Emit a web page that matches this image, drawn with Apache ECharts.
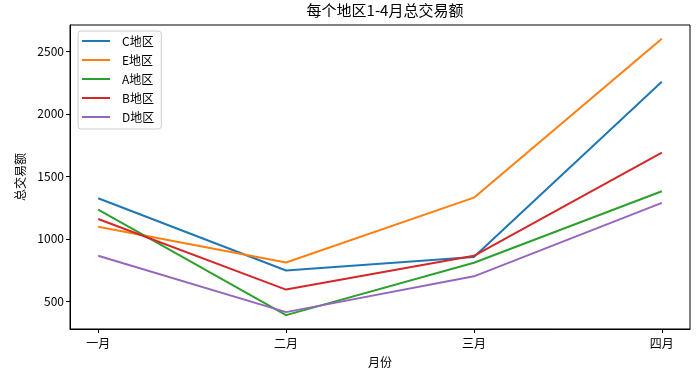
<!DOCTYPE html>
<html>
<head>
<meta charset="utf-8">
<script src="https://cdn.jsdelivr.net/npm/echarts@6/dist/echarts.min.js"></script>
<style>html,body{margin:0;padding:0;background:#fff}#c{width:700px;height:373px}</style>
</head>
<body>
<div id="c"></div>
<script>
const months = ['一月', '二月', '三月', '四月'];
const seriesNames = ['C地区', 'E地区', 'A地区', 'B地区', 'D地区'];
const cValues = [1325, 748, 855, 2256];
const eValues = [1098, 812, 1330, 2600];
const aValues = [1235, 391, 810, 1381];
const bValues = [1159, 595, 865, 1690];
const dValues = [865, 415, 701, 1288];
const yTicks = [500, 1000, 1500, 2000, 2500];
const xTicks = [0, 1, 2, 3];
const colors = ['#1f77b4', '#ff7f0e', '#2ca02c', '#d62728', '#9467bd'];
const allValues = [cValues, eValues, aValues, bValues, dValues];

const FONT = '"Noto Sans CJK SC", sans-serif';
const chart = echarts.init(document.getElementById('c'), null, {renderer: 'canvas'});
const series = seriesNames.map((n, i) => ({
  name: n,
  type: 'line',
  symbol: 'none',
  data: allValues[i].map((v, j) => [xTicks[j], v]),
  lineStyle: {width: 2, color: colors[i]},
  itemStyle: {color: colors[i]},
  emphasis: {disabled: true},
  animation: false
}));
chart.setOption({
  animation: false,
  textStyle: {fontFamily: FONT},
  title: {
    text: '每个地区1-4月总交易额',
    left: 380, top: -2, textAlign: 'center',
    textStyle: {fontFamily: FONT, fontSize: 15, fontWeight: 'normal', color: '#000'}
  },
  legend: {
    orient: 'vertical',
    left: 78, top: 31,
    icon: 'rect',
    itemWidth: 28, itemHeight: 2, itemGap: 5,
    padding: [3, 7, 5, 4],
    borderColor: '#cccccc', borderWidth: 1, borderRadius: 3,
    backgroundColor: 'rgba(255,255,255,0.8)',
    textStyle: {fontFamily: FONT, fontSize: 12, lineHeight: 14, color: '#000', padding: [0, 0, 0, 7]},
    data: seriesNames
  },
  grid: {left: 70, right: 10, top: 25, bottom: 44, show: true, borderColor: '#000', borderWidth: 1, containLabel: false},
  xAxis: {
    type: 'value',
    min: -0.15, max: 3.15,
    name: '月份', nameLocation: 'middle', nameGap: 27,
    nameTextStyle: {fontFamily: FONT, fontSize: 12, color: '#000'},
    axisLine: {show: true, onZero: false, lineStyle: {color: '#000', width: 1}},
    axisTick: {show: true, length: 4, lineStyle: {color: '#000'}, customValues: xTicks},
    axisLabel: {fontFamily: FONT, fontSize: 12, color: '#000', margin: 8, customValues: xTicks,
      formatter: v => months[Math.round(v)]},
    splitLine: {show: false}
  },
  yAxis: {
    type: 'value',
    min: 280, max: 2710,
    name: '总交易额', nameLocation: 'middle', nameGap: 44,
    nameTextStyle: {fontFamily: FONT, fontSize: 12, color: '#000'},
    axisLine: {show: true, onZero: false, lineStyle: {color: '#000', width: 1}},
    axisTick: {show: true, length: 4, lineStyle: {color: '#000'}, customValues: yTicks},
    axisLabel: {fontFamily: FONT, fontSize: 12, color: '#000', margin: 6, customValues: yTicks,
      formatter: v => String(v)},
    splitLine: {show: false}
  },
  series: series
});
</script>
</body>
</html>
